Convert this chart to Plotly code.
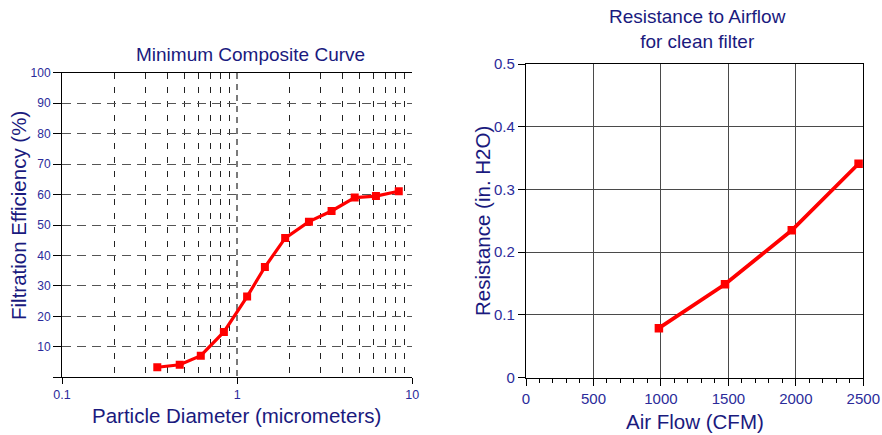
import plotly.graph_objects as go

# Left chart: Minimum Composite Curve
particle_diameter = [0.35, 0.47, 0.62, 0.84, 1.14, 1.44, 1.88, 2.57, 3.46, 4.69, 6.2, 8.37]
efficiency = [3.3, 4.1, 7.1, 14.9, 26.5, 36.2, 45.7, 51.1, 54.6, 59.0, 59.5, 61.1]
left_x_ticks = [0.1, 1, 10]
left_x_minor = [0.2, 0.3, 0.4, 0.5, 0.6, 0.7, 0.8, 0.9, 2, 3, 4, 5, 6, 7, 8, 9]
left_y_ticks = [0, 10, 20, 30, 40, 50, 60, 70, 80, 90, 100]
left_y_labels = ["", "10", "20", "30", "40", "50", "60", "70", "80", "90", "100"]

# Right chart: Resistance to Airflow
air_flow = [985, 1475, 1970, 2465]
resistance = [0.079, 0.149, 0.235, 0.341]

TITLE_C = "#1a1a7e"
TICK_C = "#2b2b9a"
FONT = "Liberation Sans, Arial, sans-serif"
RED = "#ff0000"

fig = go.Figure()
fig.add_trace(go.Scatter(x=particle_diameter, y=efficiency, mode="lines+markers",
                         line=dict(color=RED, width=3.2), marker=dict(symbol="square", size=8, color=RED),
                         xaxis="x", yaxis="y", showlegend=False))
fig.add_trace(go.Scatter(x=air_flow, y=resistance, mode="lines+markers",
                         line=dict(color=RED, width=3.8), marker=dict(symbol="square", size=8.5, color=RED),
                         xaxis="x2", yaxis="y2", showlegend=False))

W, H = 882, 435
def px_x(p): return p / W
def px_y(p): return 1 - p / H

fig.update_layout(
    width=W, height=H, margin=dict(l=0, r=0, t=0, b=0, autoexpand=False),
    paper_bgcolor="white", plot_bgcolor="white",
    font=dict(family=FONT, color=TICK_C),
    xaxis=dict(type="log", domain=[px_x(62), px_x(412.3)], range=[-1, 1], anchor="y", automargin=False,
               tickvals=left_x_ticks, ticktext=["0.1", "1", "10"],
               ticks="outside", ticklen=6, tickcolor="black", tickfont=dict(size=12.5, color=TICK_C),
               showline=True, linecolor="black", linewidth=1, mirror=True,
               showgrid=True, gridcolor="#7a7a7a", gridwidth=1.8, griddash="6px,5px",
               minor=dict(tickvals=left_x_minor, showgrid=True, gridcolor="#222", gridwidth=1,
                          griddash="6px,8px", ticks=""),
               zeroline=False),
    yaxis=dict(domain=[px_y(377.3), px_y(72.7)], range=[0, 100], anchor="x", automargin=False,
               tickvals=left_y_ticks, ticktext=left_y_labels,
               ticks="outside", ticklen=8, tickcolor="black", tickfont=dict(size=12, color=TICK_C),
               showline=True, linecolor="black", linewidth=1,
               showgrid=True, gridcolor="#555", gridwidth=1.4, griddash="9px,6px",
               zeroline=False),
    xaxis2=dict(domain=[px_x(526), px_x(863.3)], range=[0, 2500], anchor="y2", automargin=False,
                tick0=0, dtick=500, ticks="outside", ticklen=7, tickcolor="black",
                tickfont=dict(size=15, color=TICK_C),
                minor=dict(dtick=100, ticks="outside", ticklen=4, tickcolor="black", showgrid=False),
                showline=True, linecolor="black", linewidth=1.2, mirror=True,
                showgrid=True, gridcolor="#4a4a4a", gridwidth=1.3, zeroline=False),
    yaxis2=dict(domain=[px_y(377.7), px_y(64)], range=[0, 0.5], anchor="x2", automargin=False,
                tick0=0, dtick=0.1, ticks="outside", ticklen=7, tickcolor="black",
                tickfont=dict(size=15, color=TICK_C),
                showline=True, linecolor="black", linewidth=1.2, mirror=True,
                showgrid=True, gridcolor="#4a4a4a", gridwidth=1.3, zeroline=False),
)

ann = [
    dict(text="Minimum Composite Curve", x=px_x(250), y=px_y(54), size=19),
    dict(text="Resistance to Airflow<br>for clean filter", x=px_x(697), y=px_y(29.5), size=19),
    dict(text="Particle Diameter (micrometers)", x=px_x(236), y=px_y(415), size=20.5),
    dict(text="Air Flow (CFM)", x=px_x(694.5), y=px_y(421), size=20.5),
]
for a in ann:
    fig.add_annotation(text=a["text"], x=a["x"], y=a["y"], xref="paper", yref="paper",
                       xanchor="center", yanchor="middle", showarrow=False,
                       font=dict(family=FONT, size=a["size"], color=TITLE_C))
fig.add_annotation(text="Filtration Efficiency (%)", x=px_x(18), y=px_y(216), xref="paper", yref="paper",
                   xanchor="center", yanchor="middle", showarrow=False, textangle=-90,
                   font=dict(family=FONT, size=20.5, color=TITLE_C))
fig.add_annotation(text="Resistance (in. H2O)", x=px_x(482), y=px_y(221), xref="paper", yref="paper",
                   xanchor="center", yanchor="middle", showarrow=False, textangle=-90,
                   font=dict(family=FONT, size=20.5, color=TITLE_C))

fig.write_html("out.html", config={"displayModeBar": False},
               post_script="document.body.style.margin='0';document.body.style.overflow='hidden';")
